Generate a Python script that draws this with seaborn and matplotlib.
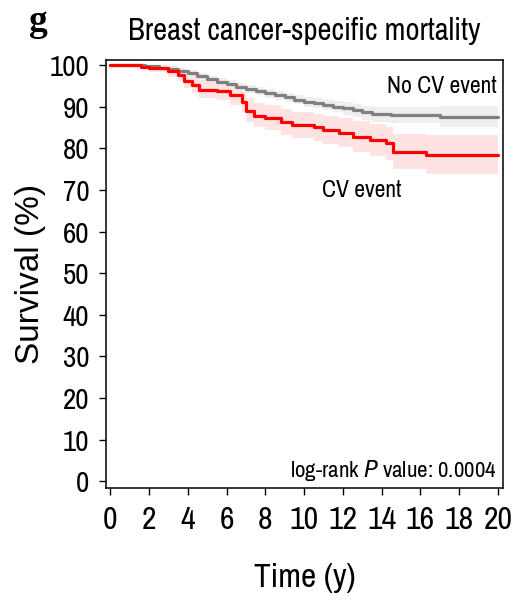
import matplotlib
matplotlib.use("Agg")
import matplotlib.pyplot as plt
import seaborn as sns
import pandas as pd

# ---- data ----
time_nocv = [0, 1.0, 1.8, 2.5, 3.0, 3.5, 4.0, 4.5, 5.0, 5.5, 6.0, 6.5, 7.0, 7.5,
             8.0, 8.5, 9.0, 9.5, 10.0, 10.5, 11.0, 11.5, 12.0, 12.5, 13.0, 13.5,
             14.5, 17.0, 20.0]
surv_nocv = [100, 99.9, 99.7, 99.3, 99.0, 98.5, 98.0, 97.3, 96.6, 96.0, 95.4, 94.8,
             94.3, 93.8, 93.2, 92.7, 92.2, 91.7, 91.2, 90.8, 90.4, 90.0, 89.6, 89.1,
             88.6, 88.2, 88.0, 87.6, 87.6]
lo_nocv = [100, 99.6, 99.3, 98.8, 98.4, 97.8, 97.2, 96.5, 95.7, 95.1, 94.5, 93.9,
           93.3, 92.8, 92.1, 91.6, 91.1, 90.6, 90.0, 89.6, 89.1, 88.6, 88.1, 87.5,
           86.9, 86.4, 86.0, 85.2, 85.2]
hi_nocv = [100, 100, 100, 99.7, 99.5, 99.1, 98.7, 98.1, 97.4, 96.9, 96.3, 95.7,
           95.2, 94.8, 94.2, 93.8, 93.3, 92.9, 92.4, 92.0, 91.6, 91.3, 91.0, 90.6,
           90.2, 90.0, 90.0, 90.2, 90.2]

time_cv = [0, 1.6, 2.0, 3.0, 3.5, 3.8, 4.2, 4.6, 5.5, 6.2, 6.8, 7.0, 7.4, 8.0,
           8.8, 9.4, 10.5, 11.0, 11.8, 12.5, 13.4, 14.2, 14.6, 16.3, 20.0]
surv_cv = [100, 99.6, 99.2, 98.5, 97.6, 96.2, 95.3, 94.1, 93.7, 92.8, 91.2, 89.0,
           87.8, 87.2, 86.4, 85.6, 85.1, 84.4, 83.7, 82.8, 82.0, 81.2, 79.2, 78.4, 78.4]
lo_cv = [100, 99.0, 98.3, 97.2, 96.1, 94.5, 93.3, 92.0, 91.5, 90.5, 88.8, 86.4,
         85.1, 84.3, 83.3, 82.4, 81.7, 81.0, 80.2, 79.1, 78.2, 77.2, 74.9, 73.7, 73.7]
hi_cv = [100, 100, 100, 99.8, 99.2, 98.0, 97.3, 96.3, 96.0, 95.2, 93.8, 92.0,
         90.9, 90.3, 89.5, 88.8, 88.3, 87.8, 87.2, 86.5, 85.8, 85.2, 83.5, 83.2, 83.2]

x_ticks = list(range(0, 21, 2))
y_ticks = list(range(0, 101, 10))

title = "Breast cancer-specific mortality"
panel = "g"
label_nocv = "No CV event"
label_cv = "CV event"

df_nocv = pd.DataFrame({"Time": time_nocv, "Survival": surv_nocv})
df_cv = pd.DataFrame({"Time": time_cv, "Survival": surv_cv})

# ---- style ----
sns.set_style("ticks")
narrow = ["Archivo Narrow", "Roboto Condensed", "Liberation Sans", "DejaVu Sans"]
plt.rcParams["font.family"] = narrow
plt.rcParams["axes.linewidth"] = 1.1
plt.rcParams["axes.edgecolor"] = "black"
for k in ["text.color", "axes.labelcolor", "xtick.color", "ytick.color"]:
    plt.rcParams[k] = "black"

W, H = 513, 602
fig = plt.figure(figsize=(W / 100, H / 100), dpi=100)
L, R, T, B = 106, 503, 60, 488
ax = fig.add_axes([L / W, (H - B) / H, (R - L) / W, (B - T) / H])

RED = "#ff0000"
GRAY = "#808080"

ax.fill_between(time_nocv, lo_nocv, hi_nocv, step="post", color="#eeeeee", lw=0, zorder=1)
ax.fill_between(time_cv, lo_cv, hi_cv, step="post", color="#ffe3e3", lw=0, zorder=1.5)
sns.lineplot(data=df_nocv, x="Time", y="Survival", ax=ax, color=GRAY, lw=2.3,
             drawstyle="steps-post", errorbar=None, zorder=3)
sns.lineplot(data=df_cv, x="Time", y="Survival", ax=ax, color=RED, lw=2.3,
             drawstyle="steps-post", errorbar=None, zorder=4)

ax.set_xlim(-0.22, 20.26)
ax.set_ylim(-1.6, 101.2)
ax.set_xticks(x_ticks)
ax.set_yticks(y_ticks)
ax.tick_params(axis="both", direction="out", length=5, width=1, color="black")
ax.tick_params(axis="y", labelsize=21, pad=7)
ax.tick_params(axis="x", labelsize=23, pad=8)
for s in ax.spines.values():
    s.set_visible(True)
    s.set_color("black")

ax.set_xlabel("Time (y)", fontsize=24, family=narrow)
ax.xaxis.set_label_coords(0.5, -0.175)
ax.set_ylabel("Survival (%)", fontsize=24, family=["Liberation Sans", "DejaVu Sans"])
ax.yaxis.set_label_coords(-0.15, 0.5)

ax.set_title(title, fontsize=22, pad=14.4, family=narrow)
fig.text(29 / W, 1 - 31 / H, panel, ha="left", va="baseline",
         family=["Liberation Serif", "DejaVu Serif"], weight="bold", fontsize=27)

ax.text(19.95, 93.3, label_nocv, ha="right", va="baseline", fontsize=17, family=narrow)
ax.text(12.95, 68.2, label_cv, ha="center", va="baseline", fontsize=17, family=narrow)
ax.text(19.95, 1.0, "log-rank $\\it{P}$ value: 0.0004", ha="right", va="baseline",
        fontsize=16.5, family=narrow)

fig.savefig("out.png", dpi=100)
